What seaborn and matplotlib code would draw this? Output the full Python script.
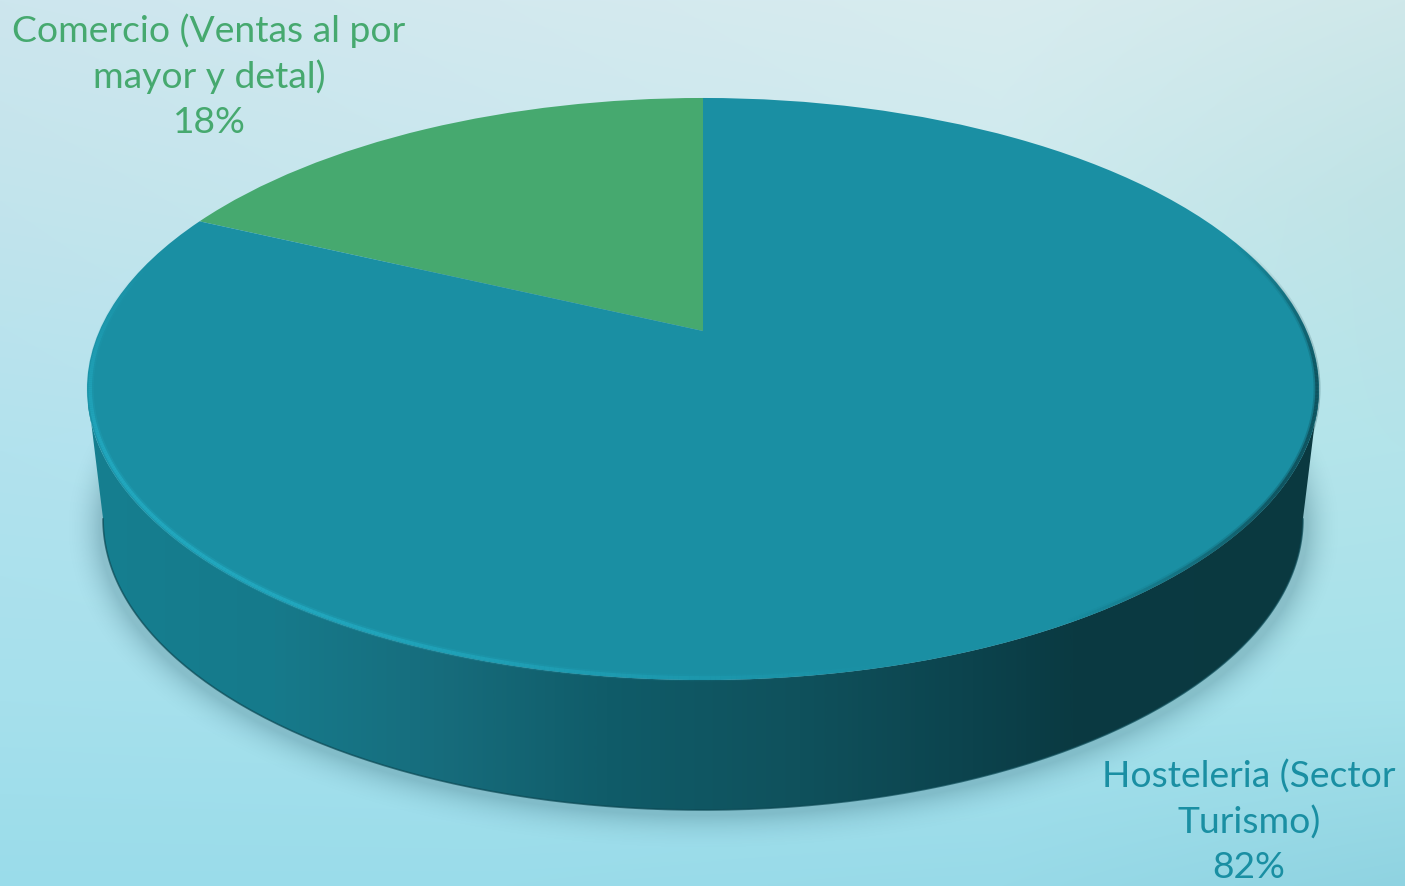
import numpy as np
import seaborn as sns
import matplotlib.pyplot as plt
from matplotlib.collections import LineCollection
from matplotlib.colors import LinearSegmentedColormap, to_rgb
from matplotlib.patches import PathPatch
from matplotlib.path import Path
from matplotlib.transforms import Transform

# data
labels = ["Comercio (Ventas al por\nmayor y detal)", "Hosteleria (Sector\nTurismo)"]
shares = [18, 82]
colors = ["#46a96f", "#1a8fa3"]

sns.set_theme(style="white")
plt.rcParams['font.family'] = ['Lato', 'DejaVu Sans']


# tilted disc: unit circle -> image pixels
class Tilt(Transform):
    input_dims = 2
    output_dims = 2
    is_separable = False

    def transform_non_affine(self, values):
        values = np.asarray(values, dtype=float)
        v = -values[:, 1]
        w = 1 - 0.1993 * v
        return np.column_stack([703 + 603.6 * values[:, 0] / w, (331 + 213.5 * v) / w])


tilt = Tilt()


def rim(theta, r=1.0):
    return tilt.transform_non_affine(np.column_stack([r * np.cos(theta), r * np.sin(theta)]))


def floor(pts):
    # lower face of the disc
    return np.column_stack([703 + 0.974 * (pts[:, 0] - 703), 810 - (680 - pts[:, 1])])


fig = plt.figure(figsize=(14.05, 8.86), dpi=100)
ax = fig.add_axes([0, 0, 1, 1])

# background
bg_x = [0, 500, 1000, 1405]
bg_y = [0, 200, 450, 700, 886]
bg_rows = [
    ["#cde6ee", "#d3e9ef", "#d8ecef", "#cfe8ea"],
    ["#c2e4ec", "#c8e7ee", "#cdeaee", "#bfe3e6"],
    ["#b2e2ee", "#b6e4ef", "#b6e5ee", "#b3e4ea"],
    ["#a6e0ec", "#a6e1ed", "#a6e2ed", "#a5e1ea"],
    ["#9adcea", "#9adcea", "#98dae8", "#8fd3e1"],
]
bg = np.array([[to_rgb(c) for c in row] for row in bg_rows])
xx = np.arange(1405)
yy = np.arange(886)
bg_img = np.zeros((886, 1405, 3))
for ch in range(3):
    across = np.array([np.interp(xx, bg_x, bg[i, :, ch]) for i in range(len(bg_y))])
    bg_img[:, :, ch] = np.array([np.interp(yy, bg_y, across[:, j]) for j in range(1405)]).T
ax.imshow(bg_img, extent=(0, 1405, 886, 0), zorder=0, aspect='auto')

# soft shadow under the disc
gx, gy = np.meshgrid(xx - 703.0, yy - 527.0)
rx, ry = 604.0, 288.0
rr = (gx / rx) ** 2 + (gy / ry) ** 2
grad = 2 * np.hypot(gx / rx ** 2, gy / ry ** 2) + 1e-6
dist = (rr - 1) / grad
shade = np.clip(1 - dist / 34, 0, 1) ** 2
shadow = np.zeros((886, 1405, 4))
shadow[:, :, :3] = to_rgb("#3c6f7c")
shadow[:, :, 3] = 0.3 * shade
ax.imshow(shadow, extent=(0, 1405, 886, 0), zorder=1, aspect='auto')

# side wall, between the widest points of the top and lower faces
front = np.linspace(np.pi + 0.2, 2 * np.pi - 0.2, 200)
top_edge = rim(front)
low_edge = floor(rim(front))
wall = np.vstack([top_edge, low_edge[::-1], top_edge[:1]])
wall_cmap = LinearSegmentedColormap.from_list("wall", [
    (0.00, "#157f90"), (0.15, "#167a8b"), (0.28, "#176d7d"), (0.42, "#105c69"),
    (0.58, "#0f515c"), (0.72, "#0c434d"), (0.80, "#0a3a42"), (1.00, "#0b3940"),
])
wall_img = ax.imshow(np.linspace(0, 1, 512)[None, :], extent=(88, 1319, 886, 0),
                     cmap=wall_cmap, zorder=2, aspect='auto')
wall_patch = PathPatch(Path(wall), facecolor="none", edgecolor="none", transform=ax.transData)
ax.add_patch(wall_patch)
wall_img.set_clip_path(wall_patch)
ax.plot(low_edge[:, 0], low_edge[:, 1], color="#0b4853", lw=1.2, alpha=0.7, zorder=3)

# top face
wedges, _ = ax.pie(shares, colors=colors, startangle=90, counterclock=True, radius=1)
for w in wedges:
    w.set_transform(tilt + ax.transData)
    w.set_zorder(4)
    w.set_edgecolor("none")

# rim highlight on the left, dark bevel on the right
t = np.radians(np.linspace(165, 285, 300))
pts = rim(t, 0.995)
segs = np.stack([pts[:-1], pts[1:]], axis=1)
deg = np.degrees(t[:-1])
fade = np.clip((deg - 165) / 40, 0, 1) * np.clip((285 - deg) / 50, 0, 1)
for width, strength in [(5, 0.3), (2.5, 0.9)]:
    glow = np.zeros((len(segs), 4))
    glow[:, :3] = to_rgb("#22a9c0")
    glow[:, 3] = fade * strength
    ax.add_collection(LineCollection(segs, colors=glow, linewidths=width, zorder=5))

t = np.radians(np.linspace(300, 380, 300))
pts = rim(t, 0.997)
segs = np.stack([pts[:-1], pts[1:]], axis=1)
deg = np.degrees(t[:-1])
fade = np.clip((deg - 300) / 30, 0, 1) * np.clip((380 - deg) / 30, 0, 1)
for width, strength in [(5, 0.25), (2.5, 0.6)]:
    dark = np.zeros((len(segs), 4))
    dark[:, :3] = to_rgb("#0b3a42")
    dark[:, 3] = fade * strength
    ax.add_collection(LineCollection(segs, colors=dark, linewidths=width, zorder=5))

# labels
ax.text(209, 76, f"{labels[0]}\n{shares[0]}%", color=colors[0], fontsize=26.8, ha='center',
        va='center', linespacing=1.42, zorder=6)
ax.text(1249, 822, f"{labels[1]}\n{shares[1]}%", color=colors[1], fontsize=26.8, ha='center',
        va='center', linespacing=1.42, zorder=6)

ax.set_aspect('auto')
ax.set_xlim(0, 1405)
ax.set_ylim(886, 0)
ax.axis('off')

fig.savefig("out.png", dpi=100)
